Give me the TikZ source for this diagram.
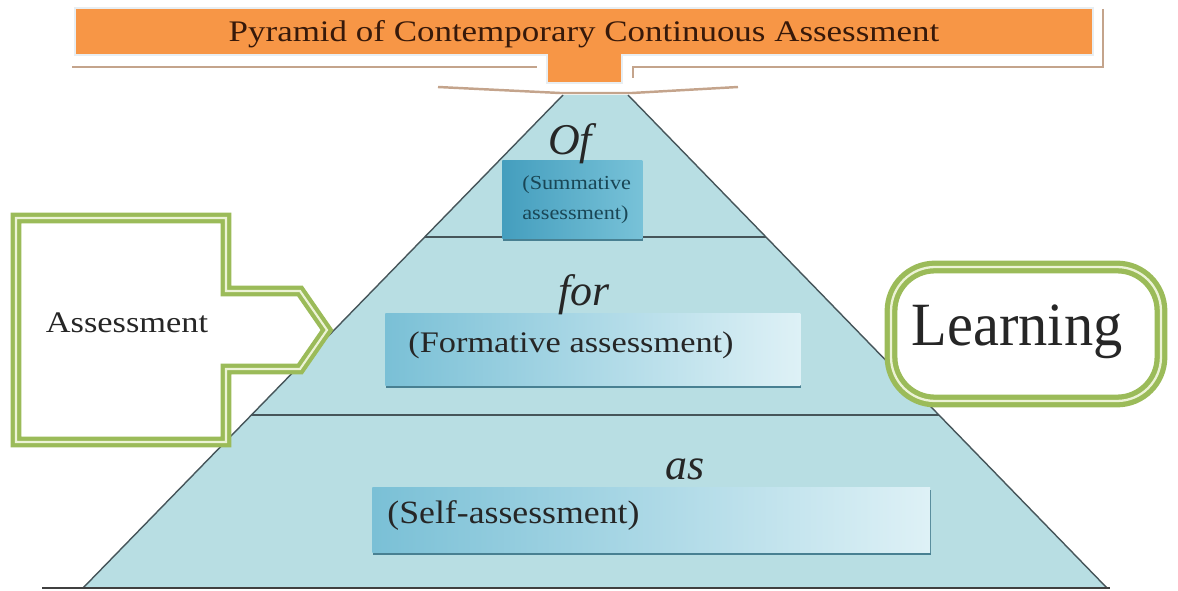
\documentclass[tikz,border=0pt]{standalone}
\usepackage{fontspec}
\setmainfont{Liberation Serif}
\usepackage{graphicx}
\usetikzlibrary{positioning,calc,shadows}

\definecolor{bannerorange}{RGB}{247,150,70}
\definecolor{bannerrim}{RGB}{232,238,242}
\definecolor{titlebrown}{RGB}{55,25,10}
\definecolor{tanshadow}{RGB}{196,164,140}
\definecolor{pyrteal}{RGB}{184,222,227}
\definecolor{edgegray}{RGB}{70,85,90}
\definecolor{calloutgreen}{RGB}{155,187,89}
\definecolor{calloutpale}{RGB}{236,243,214}
\definecolor{boxdeep}{RGB}{122,192,214}
\definecolor{boxpale}{RGB}{222,241,246}
\definecolor{sumdeep}{RGB}{68,158,190}
\definecolor{sumpale}{RGB}{120,194,216}
\definecolor{sumtextcol}{RGB}{25,70,85}
\definecolor{boxshadow}{RGB}{72,128,146}

\begin{document}
\begin{tikzpicture}[x=0.02cm, y=-0.02cm,
  layerline/.style={draw=edgegray, line width=0.8pt},
  tanline/.style={draw=tanshadow, line width=1.4pt},
  levelbox/.style={anchor=north west, inner sep=0pt, left color=boxdeep, right color=boxpale,
    drop shadow={shadow xshift=0.4pt, shadow yshift=-1.6pt, fill=boxshadow, opacity=1}},
  boxtext/.style={anchor=west, inner sep=0pt, text=black!85, font=\fontsize{17}{20}\selectfont},
  levelword/.style={anchor=base, inner sep=0pt, text=black!85, font=\fontsize{25}{28}\selectfont\itshape},
  calloutline/.style={draw=calloutgreen, line width=2.4pt, double=calloutpale, double distance=1.2pt, fill=white},
  ]
  \useasboundingbox (0,0) rectangle (1178,591);

  % pyramid
  \coordinate (bl) at (83,588);
  \coordinate (br) at (1107,588);
  \coordinate (tl) at (563,95);
  \coordinate (tr) at (628,95);
  \coordinate (baseL) at (42,588);
  \coordinate (baseR) at (1110,588);
  \fill[pyrteal] (bl) -- (tl) -- (tr) -- (br) -- cycle;
  \draw[layerline] (bl) -- (tl) (tr) -- (br);
  \draw[layerline] ($(bl)!0.712!(tl)$) -- ($(br)!0.712!(tr)$);
  \draw[layerline, line width=1pt] ($(bl)!0.351!(tl)$) -- ($(br)!0.351!(tr)$);
  \draw[black!75, line width=1.3pt] (baseL) -- (baseR);

  % level boxes
  \node[levelbox, left color=sumdeep, right color=sumpale, minimum width=2.8cm, minimum height=1.56cm] (sumbox) at (502,160) {};
  \node[boxtext, text=sumtextcol, font=\fontsize{11.3}{17}\selectfont, align=left] (sumtext) at ($(sumbox.west)+(20,0)$)
    {\scalebox{1.12}[1]{(Summative}\\\scalebox{1.12}[1]{assessment)}};
  \node[levelbox, minimum width=8.3cm, minimum height=1.44cm] (formbox) at (385,313) {};
  \node[boxtext] (formtext) at ($(formbox.west)+(23,-4)$) {\scalebox{1.15}[1]{(Formative assessment)}};
  \node[levelbox, minimum width=11.16cm, minimum height=1.3cm] (selfbox) at (372,487) {};
  \node[boxtext, font=\fontsize{18.5}{22}\selectfont] (selftext) at ($(selfbox.west)+(15,-4)$) {\scalebox{1.1}[1]{(Self-assessment)}};

  \node[levelword] (ofword) at (570,155) {Of};
  \node[levelword] (forword) at (584,306) {for};
  \node[levelword] (asword) at (685,480) {as};

  % callouts
  \draw[calloutline] (16,218) -- (226,218) -- (226,291) -- (300,291) -- (327,330) -- (300,369) -- (226,369) -- (226,442) -- (16,442) -- cycle;
  \node[inner sep=0pt, text=black!85, font=\fontsize{17}{20}\selectfont] (assesstext) at (127,323) {\scalebox{1.15}[1]{Assessment}};
  \node[draw=calloutgreen, line width=3pt, double=calloutpale, double distance=1.3pt, fill=white, rounded corners=25pt,
    minimum width=5.4cm, minimum height=2.68cm] (learnbox) at (1026,334) {};
  \node[inner sep=0pt, text=black!85, font=\fontsize{35}{40}\selectfont] (learntext) at (1017,332) {\scalebox{0.95}[1]{Learning}};

  % banner
  \draw[tanline] (72,67) -- (537,67);
  \draw[tanline] (1103,9) -- (1103,67) -- (633,67) -- (633,78);
  \draw[tanline] (438,87) -- (560,93) -- (632,93) -- (738,87);
  \filldraw[fill=bannerorange, draw=bannerrim, line width=1.2pt] (75,8) -- (1093,8) -- (1093,55) -- (622,55) -- (622,83) -- (547,83) -- (547,55) -- (75,55) -- cycle;
  \node[anchor=base, inner sep=0pt, text=titlebrown, font=\fontsize{17}{20}\selectfont] (title) at (584,42)
    {\scalebox{1.17}[1]{Pyramid of Contemporary Continuous Assessment}};
\end{tikzpicture}
\end{document}
